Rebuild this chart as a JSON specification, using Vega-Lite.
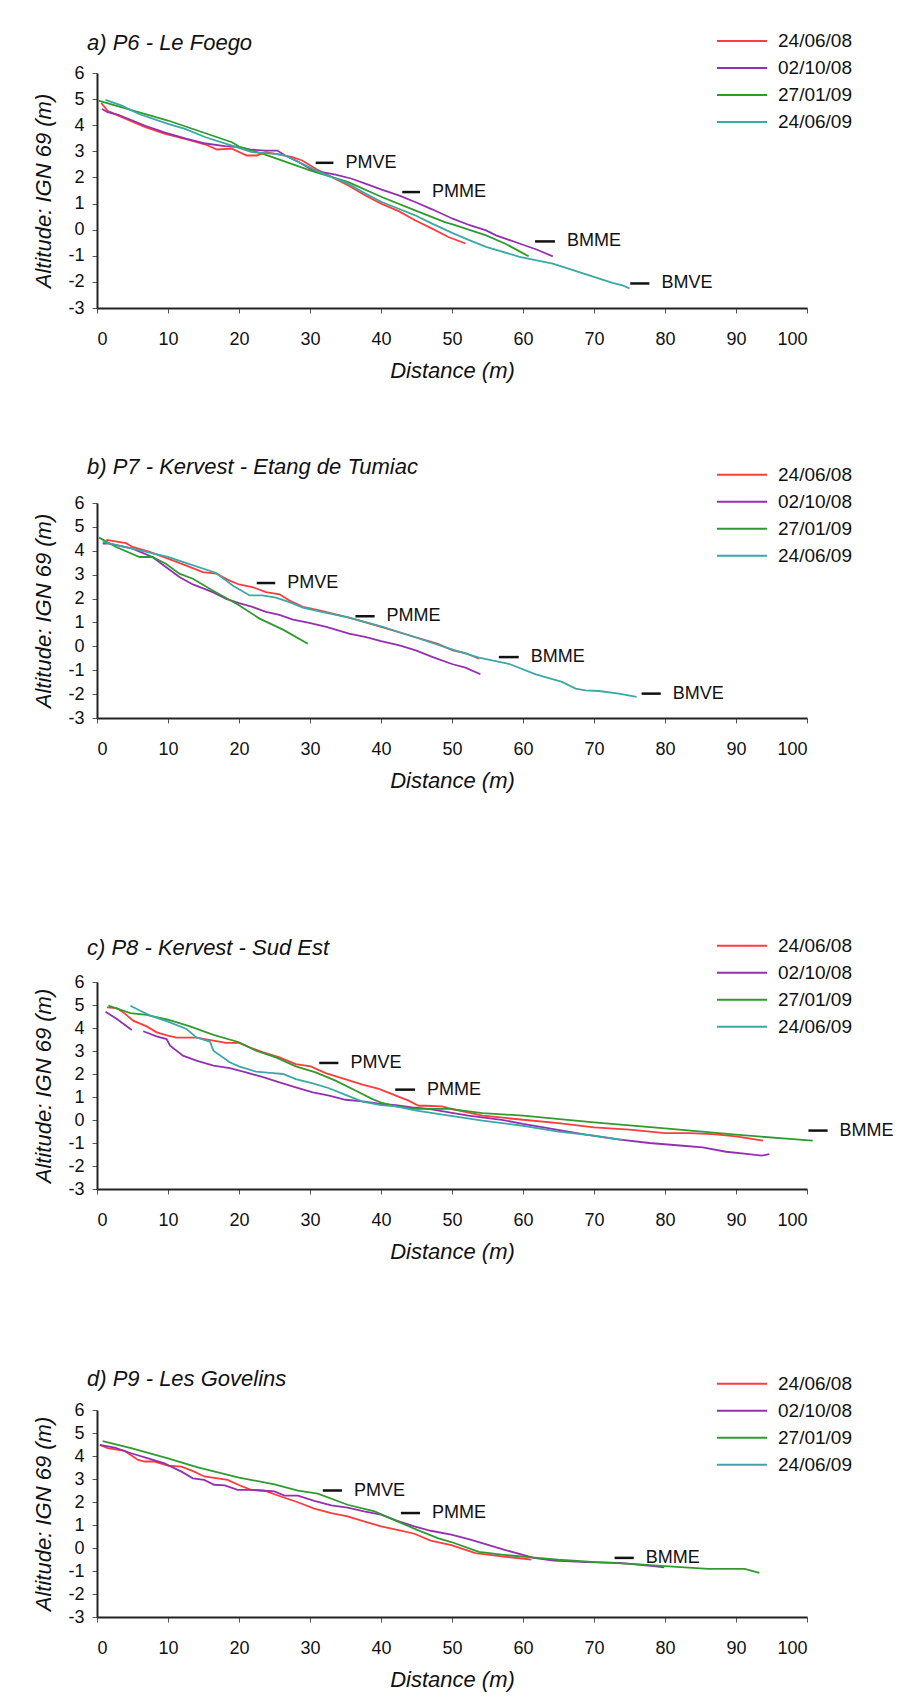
{
  "$schema": "https://vega.github.io/schema/vega-lite/v6.json",
  "padding": {"left": 32, "top": 27, "right": 5, "bottom": 5},
  "background": "white",
  "spacing": 74,
  "config": {
    "font": "Liberation Sans",
    "view": {"stroke": null},
    "axis": {"domainColor": "#222", "domainWidth": 2, "tickColor": "#555", "tickWidth": 1, "tickSize": 5, "labelFont": "Liberation Sans", "labelFontSize": 18, "labelColor": "#111", "titleFont": "Liberation Sans", "titleFontSize": 22, "titleFontStyle": "italic", "titleFontWeight": "normal", "titleColor": "#111", "grid": false, "labelOverlap": false},
    "axisX": {"labelPadding": 17, "titlePadding": 12, "labelAngle": 0},
    "axisY": {"labelPadding": 8, "titlePadding": 12},
    "legend": {"title": null, "orient": "none", "symbolType": "M-1,0H3", "symbolSize": 625, "symbolStrokeWidth": 2, "labelFont": "Liberation Sans", "labelFontSize": 19, "labelColor": "#111", "labelOffset": 35, "rowPadding": 3, "padding": 0},
    "title": {"font": "Liberation Sans", "fontSize": 22, "fontStyle": "italic", "fontWeight": "normal", "anchor": "start", "frame": "group", "color": "#111"}
  },
  "resolve": {"scale": {"color": "independent", "x": "independent", "y": "independent"}, "legend": {"color": "independent"}},
  "datasets": {
    "a": [
      {"date":"24/06/08","dist":0.6,"alt":4.85},{"date":"24/06/08","dist":1.5,"alt":4.55},{"date":"24/06/08","dist":3,"alt":4.37},{"date":"24/06/08","dist":6.8,"alt":3.93},{"date":"24/06/08","dist":9.6,"alt":3.67},{"date":"24/06/08","dist":12.4,"alt":3.48},{"date":"24/06/08","dist":15.3,"alt":3.26},{"date":"24/06/08","dist":16.9,"alt":3.07},{"date":"24/06/08","dist":19,"alt":3.1},{"date":"24/06/08","dist":21.1,"alt":2.84},{"date":"24/06/08","dist":22.5,"alt":2.84},{"date":"24/06/08","dist":23.7,"alt":2.97},{"date":"24/06/08","dist":25.6,"alt":2.88},{"date":"24/06/08","dist":27.5,"alt":2.78},{"date":"24/06/08","dist":28.9,"alt":2.65},{"date":"24/06/08","dist":30.8,"alt":2.33},{"date":"24/06/08","dist":33.1,"alt":2.01},{"date":"24/06/08","dist":35.4,"alt":1.69},{"date":"24/06/08","dist":37.8,"alt":1.31},{"date":"24/06/08","dist":40.1,"alt":0.99},{"date":"24/06/08","dist":42.5,"alt":0.71},{"date":"24/06/08","dist":44.8,"alt":0.36},{"date":"24/06/08","dist":47.2,"alt":0.04},{"date":"24/06/08","dist":49.5,"alt":-0.28},{"date":"24/06/08","dist":51.9,"alt":-0.53},
      {"date":"02/10/08","dist":0.7,"alt":4.62},{"date":"02/10/08","dist":1.5,"alt":4.5},{"date":"02/10/08","dist":3,"alt":4.4},{"date":"02/10/08","dist":6.8,"alt":3.98},{"date":"02/10/08","dist":9.6,"alt":3.72},{"date":"02/10/08","dist":12.4,"alt":3.5},{"date":"02/10/08","dist":15.3,"alt":3.3},{"date":"02/10/08","dist":18,"alt":3.2},{"date":"02/10/08","dist":20,"alt":3.16},{"date":"02/10/08","dist":21.8,"alt":3.06},{"date":"02/10/08","dist":23.7,"alt":3.03},{"date":"02/10/08","dist":25.4,"alt":3.03},{"date":"02/10/08","dist":26.5,"alt":2.84},{"date":"02/10/08","dist":28.4,"alt":2.59},{"date":"02/10/08","dist":30.3,"alt":2.29},{"date":"02/10/08","dist":31.7,"alt":2.2},{"date":"02/10/08","dist":33.6,"alt":2.11},{"date":"02/10/08","dist":35.9,"alt":1.95},{"date":"02/10/08","dist":37.8,"alt":1.76},{"date":"02/10/08","dist":40.1,"alt":1.53},{"date":"02/10/08","dist":42.5,"alt":1.31},{"date":"02/10/08","dist":44.8,"alt":1.06},{"date":"02/10/08","dist":47.2,"alt":0.78},{"date":"02/10/08","dist":50.1,"alt":0.42},{"date":"02/10/08","dist":52.5,"alt":0.17},{"date":"02/10/08","dist":54.8,"alt":-0.03},{"date":"02/10/08","dist":56.2,"alt":-0.22},{"date":"02/10/08","dist":59.5,"alt":-0.53},{"date":"02/10/08","dist":61.9,"alt":-0.76},{"date":"02/10/08","dist":64.2,"alt":-1.02},
      {"date":"27/01/09","dist":0.2,"alt":4.94},{"date":"27/01/09","dist":10,"alt":4.18},{"date":"27/01/09","dist":19,"alt":3.35},{"date":"27/01/09","dist":20,"alt":3.18},{"date":"27/01/09","dist":23.7,"alt":2.87},{"date":"27/01/09","dist":30,"alt":2.27},{"date":"27/01/09","dist":35.4,"alt":1.82},{"date":"27/01/09","dist":40.1,"alt":1.25},{"date":"27/01/09","dist":44.8,"alt":0.74},{"date":"27/01/09","dist":49,"alt":0.29},{"date":"27/01/09","dist":50.1,"alt":0.2},{"date":"27/01/09","dist":54.8,"alt":-0.22},{"date":"27/01/09","dist":57.6,"alt":-0.55},{"date":"27/01/09","dist":60.8,"alt":-1.02},
      {"date":"24/06/09","dist":1.2,"alt":4.97},{"date":"24/06/09","dist":3.5,"alt":4.75},{"date":"24/06/09","dist":5.9,"alt":4.43},{"date":"24/06/09","dist":10,"alt":4.05},{"date":"24/06/09","dist":12.4,"alt":3.86},{"date":"24/06/09","dist":15.3,"alt":3.54},{"date":"24/06/09","dist":19,"alt":3.22},{"date":"24/06/09","dist":21.8,"alt":2.97},{"date":"24/06/09","dist":25.1,"alt":2.9},{"date":"24/06/09","dist":26.5,"alt":2.84},{"date":"24/06/09","dist":28.4,"alt":2.59},{"date":"24/06/09","dist":30.8,"alt":2.27},{"date":"24/06/09","dist":33.1,"alt":2.01},{"date":"24/06/09","dist":35.4,"alt":1.76},{"date":"24/06/09","dist":37.8,"alt":1.38},{"date":"24/06/09","dist":40.1,"alt":1.06},{"date":"24/06/09","dist":42.5,"alt":0.8},{"date":"24/06/09","dist":44.8,"alt":0.55},{"date":"24/06/09","dist":47.2,"alt":0.23},{"date":"24/06/09","dist":50.1,"alt":-0.13},{"date":"24/06/09","dist":52.5,"alt":-0.41},{"date":"24/06/09","dist":54.8,"alt":-0.66},{"date":"24/06/09","dist":59.5,"alt":-1.04},{"date":"24/06/09","dist":64.2,"alt":-1.3},{"date":"24/06/09","dist":68.9,"alt":-1.71},{"date":"24/06/09","dist":72.6,"alt":-2.04},{"date":"24/06/09","dist":74,"alt":-2.13},{"date":"24/06/09","dist":75,"alt":-2.25}
    ],
    "a_lab": [
      {"label":"PMVE","x1":30.8,"x2":33.3,"y":2.56},{"label":"PMME","x1":43,"x2":45.5,"y":1.44},{"label":"BMME","x1":61.7,"x2":64.5,"y":-0.45},{"label":"BMVE","x1":75.1,"x2":77.8,"y":-2.06}
    ],
    "b": [
      {"date":"24/06/08","dist":1.3,"alt":4.46},{"date":"24/06/08","dist":4.1,"alt":4.32},{"date":"24/06/08","dist":5,"alt":4.16},{"date":"24/06/08","dist":7.4,"alt":3.95},{"date":"24/06/08","dist":10,"alt":3.67},{"date":"24/06/08","dist":12.5,"alt":3.39},{"date":"24/06/08","dist":14.9,"alt":3.11},{"date":"24/06/08","dist":16.8,"alt":3.04},{"date":"24/06/08","dist":18.6,"alt":2.76},{"date":"24/06/08","dist":20,"alt":2.59},{"date":"24/06/08","dist":21.9,"alt":2.48},{"date":"24/06/08","dist":23.8,"alt":2.27},{"date":"24/06/08","dist":25.7,"alt":2.18},{"date":"24/06/08","dist":27.1,"alt":1.92},{"date":"24/06/08","dist":29,"alt":1.65},{"date":"24/06/08","dist":31.3,"alt":1.51},{"date":"24/06/08","dist":35.5,"alt":1.2},{"date":"24/06/08","dist":40,"alt":0.81},{"date":"24/06/08","dist":44.9,"alt":0.38},{"date":"24/06/08","dist":48,"alt":0.1},{"date":"24/06/08","dist":50.1,"alt":-0.17},{"date":"24/06/08","dist":51.9,"alt":-0.28},{"date":"24/06/08","dist":53.8,"alt":-0.52},
      {"date":"02/10/08","dist":0.8,"alt":4.3},{"date":"02/10/08","dist":1.7,"alt":4.3},{"date":"02/10/08","dist":5,"alt":4.09},{"date":"02/10/08","dist":7.8,"alt":3.74},{"date":"02/10/08","dist":9.7,"alt":3.32},{"date":"02/10/08","dist":11.6,"alt":2.9},{"date":"02/10/08","dist":13.5,"alt":2.59},{"date":"02/10/08","dist":16.3,"alt":2.27},{"date":"02/10/08","dist":18.2,"alt":1.99},{"date":"02/10/08","dist":20,"alt":1.81},{"date":"02/10/08","dist":21.9,"alt":1.65},{"date":"02/10/08","dist":23.8,"alt":1.44},{"date":"02/10/08","dist":25.7,"alt":1.32},{"date":"02/10/08","dist":27.6,"alt":1.12},{"date":"02/10/08","dist":29.9,"alt":0.98},{"date":"02/10/08","dist":32.3,"alt":0.81},{"date":"02/10/08","dist":35.5,"alt":0.53},{"date":"02/10/08","dist":37.9,"alt":0.39},{"date":"02/10/08","dist":40,"alt":0.22},{"date":"02/10/08","dist":42.6,"alt":0.04},{"date":"02/10/08","dist":44.9,"alt":-0.17},{"date":"02/10/08","dist":47.3,"alt":-0.45},{"date":"02/10/08","dist":50.1,"alt":-0.75},{"date":"02/10/08","dist":51.9,"alt":-0.89},{"date":"02/10/08","dist":54,"alt":-1.17},
      {"date":"27/01/09","dist":0.3,"alt":4.55},{"date":"27/01/09","dist":2.7,"alt":4.16},{"date":"27/01/09","dist":6,"alt":3.74},{"date":"27/01/09","dist":7.8,"alt":3.74},{"date":"27/01/09","dist":9.7,"alt":3.46},{"date":"27/01/09","dist":11.6,"alt":3.04},{"date":"27/01/09","dist":13.5,"alt":2.83},{"date":"27/01/09","dist":16.3,"alt":2.34},{"date":"27/01/09","dist":20,"alt":1.72},{"date":"27/01/09","dist":22.9,"alt":1.16},{"date":"27/01/09","dist":26.2,"alt":0.7},{"date":"27/01/09","dist":29.7,"alt":0.11},
      {"date":"24/06/09","dist":0.8,"alt":4.37},{"date":"24/06/09","dist":5,"alt":4.09},{"date":"24/06/09","dist":10,"alt":3.74},{"date":"24/06/09","dist":12.5,"alt":3.49},{"date":"24/06/09","dist":16.8,"alt":3.07},{"date":"24/06/09","dist":19.1,"alt":2.55},{"date":"24/06/09","dist":21.5,"alt":2.13},{"date":"24/06/09","dist":23.3,"alt":2.13},{"date":"24/06/09","dist":25.2,"alt":2.04},{"date":"24/06/09","dist":27.1,"alt":1.85},{"date":"24/06/09","dist":29,"alt":1.62},{"date":"24/06/09","dist":31.3,"alt":1.46},{"date":"24/06/09","dist":35.5,"alt":1.2},{"date":"24/06/09","dist":40,"alt":0.84},{"date":"24/06/09","dist":44.9,"alt":0.37},{"date":"24/06/09","dist":50.1,"alt":-0.14},{"date":"24/06/09","dist":53.8,"alt":-0.47},{"date":"24/06/09","dist":58,"alt":-0.73},{"date":"24/06/09","dist":61.8,"alt":-1.17},{"date":"24/06/09","dist":65.5,"alt":-1.49},{"date":"24/06/09","dist":67.4,"alt":-1.77},{"date":"24/06/09","dist":68.8,"alt":-1.84},{"date":"24/06/09","dist":70.7,"alt":-1.87},{"date":"24/06/09","dist":73.5,"alt":-1.98},{"date":"24/06/09","dist":76,"alt":-2.12}
    ],
    "b_lab": [
      {"label":"PMVE","x1":22.5,"x2":25.1,"y":2.65},{"label":"PMME","x1":36.4,"x2":39.1,"y":1.26},{"label":"BMME","x1":56.6,"x2":59.4,"y":-0.45},{"label":"BMVE","x1":76.7,"x2":79.4,"y":-1.98}
    ],
    "c": [
      {"date":"24/06/08","dist":1.4,"alt":4.9},{"date":"24/06/08","dist":2.8,"alt":4.86},{"date":"24/06/08","dist":3.7,"alt":4.68},{"date":"24/06/08","dist":5.1,"alt":4.32},{"date":"24/06/08","dist":7,"alt":4.07},{"date":"24/06/08","dist":8.4,"alt":3.81},{"date":"24/06/08","dist":10,"alt":3.67},{"date":"24/06/08","dist":11.2,"alt":3.58},{"date":"24/06/08","dist":14,"alt":3.58},{"date":"24/06/08","dist":16.4,"alt":3.45},{"date":"24/06/08","dist":18.2,"alt":3.35},{"date":"24/06/08","dist":20,"alt":3.35},{"date":"24/06/08","dist":21.5,"alt":3.16},{"date":"24/06/08","dist":23.4,"alt":2.94},{"date":"24/06/08","dist":25.7,"alt":2.72},{"date":"24/06/08","dist":28,"alt":2.43},{"date":"24/06/08","dist":30.1,"alt":2.33},{"date":"24/06/08","dist":32.2,"alt":2.04},{"date":"24/06/08","dist":34.6,"alt":1.81},{"date":"24/06/08","dist":37.4,"alt":1.54},{"date":"24/06/08","dist":39.7,"alt":1.35},{"date":"24/06/08","dist":42.1,"alt":1.06},{"date":"24/06/08","dist":43.9,"alt":0.84},{"date":"24/06/08","dist":45.3,"alt":0.62},{"date":"24/06/08","dist":46.3,"alt":0.62},{"date":"24/06/08","dist":48.6,"alt":0.59},{"date":"24/06/08","dist":49.7,"alt":0.5},{"date":"24/06/08","dist":54.3,"alt":0.19},{"date":"24/06/08","dist":60,"alt":0.01},{"date":"24/06/08","dist":65,"alt":-0.14},{"date":"24/06/08","dist":70,"alt":-0.32},{"date":"24/06/08","dist":75,"alt":-0.42},{"date":"24/06/08","dist":80,"alt":-0.57},{"date":"24/06/08","dist":83.4,"alt":-0.57},{"date":"24/06/08","dist":86.7,"alt":-0.61},{"date":"24/06/08","dist":90,"alt":-0.71},{"date":"24/06/08","dist":93.8,"alt":-0.9},
      {"date":"02/10/08","seg":1,"dist":1.2,"alt":4.71},{"date":"02/10/08","seg":1,"dist":2.8,"alt":4.39},{"date":"02/10/08","seg":1,"dist":4.9,"alt":3.91},
      {"date":"02/10/08","seg":2,"dist":6.5,"alt":3.86},{"date":"02/10/08","seg":2,"dist":8.4,"alt":3.64},{"date":"02/10/08","seg":2,"dist":9.8,"alt":3.52},{"date":"02/10/08","seg":2,"dist":10.3,"alt":3.23},{"date":"02/10/08","seg":2,"dist":12.1,"alt":2.8},{"date":"02/10/08","seg":2,"dist":14,"alt":2.58},{"date":"02/10/08","seg":2,"dist":16.4,"alt":2.36},{"date":"02/10/08","seg":2,"dist":18.7,"alt":2.26},{"date":"02/10/08","seg":2,"dist":21,"alt":2.07},{"date":"02/10/08","seg":2,"dist":23.4,"alt":1.86},{"date":"02/10/08","seg":2,"dist":25.7,"alt":1.64},{"date":"02/10/08","seg":2,"dist":28,"alt":1.42},{"date":"02/10/08","seg":2,"dist":30.4,"alt":1.2},{"date":"02/10/08","seg":2,"dist":32.7,"alt":1.06},{"date":"02/10/08","seg":2,"dist":35,"alt":0.88},{"date":"02/10/08","seg":2,"dist":37.4,"alt":0.81},{"date":"02/10/08","seg":2,"dist":40,"alt":0.7},{"date":"02/10/08","seg":2,"dist":42.1,"alt":0.65},{"date":"02/10/08","seg":2,"dist":44.4,"alt":0.55},{"date":"02/10/08","seg":2,"dist":46.7,"alt":0.48},{"date":"02/10/08","seg":2,"dist":49.6,"alt":0.33},{"date":"02/10/08","seg":2,"dist":52.3,"alt":0.19},{"date":"02/10/08","seg":2,"dist":57,"alt":0.01},{"date":"02/10/08","seg":2,"dist":60,"alt":-0.17},{"date":"02/10/08","seg":2,"dist":63.7,"alt":-0.36},{"date":"02/10/08","seg":2,"dist":68.4,"alt":-0.61},{"date":"02/10/08","seg":2,"dist":73.1,"alt":-0.83},{"date":"02/10/08","seg":2,"dist":77.8,"alt":-1.0},{"date":"02/10/08","seg":2,"dist":82.5,"alt":-1.12},{"date":"02/10/08","seg":2,"dist":85.3,"alt":-1.19},{"date":"02/10/08","seg":2,"dist":88.6,"alt":-1.38},{"date":"02/10/08","seg":2,"dist":91.8,"alt":-1.48},{"date":"02/10/08","seg":2,"dist":93.6,"alt":-1.55},{"date":"02/10/08","seg":2,"dist":94.7,"alt":-1.48},
      {"date":"27/01/09","dist":1.6,"alt":4.97},{"date":"27/01/09","dist":4.7,"alt":4.65},{"date":"27/01/09","dist":7,"alt":4.57},{"date":"27/01/09","dist":10,"alt":4.36},{"date":"27/01/09","dist":13.1,"alt":4.07},{"date":"27/01/09","dist":16.4,"alt":3.7},{"date":"27/01/09","dist":20,"alt":3.38},{"date":"27/01/09","dist":22.4,"alt":3.01},{"date":"27/01/09","dist":25.2,"alt":2.72},{"date":"27/01/09","dist":28,"alt":2.33},{"date":"27/01/09","dist":30.8,"alt":2.07},{"date":"27/01/09","dist":33.6,"alt":1.71},{"date":"27/01/09","dist":36.4,"alt":1.28},{"date":"27/01/09","dist":38.8,"alt":0.91},{"date":"27/01/09","dist":40.2,"alt":0.74},{"date":"27/01/09","dist":42.1,"alt":0.59},{"date":"27/01/09","dist":45,"alt":0.48},{"date":"27/01/09","dist":49.6,"alt":0.48},{"date":"27/01/09","dist":54.3,"alt":0.3},{"date":"27/01/09","dist":60,"alt":0.19},{"date":"27/01/09","dist":70,"alt":-0.1},{"date":"27/01/09","dist":80,"alt":-0.36},{"date":"27/01/09","dist":90,"alt":-0.64},{"date":"27/01/09","dist":96.6,"alt":-0.8},{"date":"27/01/09","dist":100.8,"alt":-0.9},
      {"date":"24/06/09","dist":4.7,"alt":4.97},{"date":"24/06/09","dist":6.1,"alt":4.75},{"date":"24/06/09","dist":7.5,"alt":4.54},{"date":"24/06/09","dist":10,"alt":4.28},{"date":"24/06/09","dist":12.6,"alt":3.96},{"date":"24/06/09","dist":14,"alt":3.59},{"date":"24/06/09","dist":15.9,"alt":3.41},{"date":"24/06/09","dist":16.4,"alt":3.01},{"date":"24/06/09","dist":18.7,"alt":2.51},{"date":"24/06/09","dist":20,"alt":2.33},{"date":"24/06/09","dist":22.4,"alt":2.1},{"date":"24/06/09","dist":24.8,"alt":2.04},{"date":"24/06/09","dist":26.2,"alt":2.0},{"date":"24/06/09","dist":28,"alt":1.78},{"date":"24/06/09","dist":30.4,"alt":1.59},{"date":"24/06/09","dist":32.7,"alt":1.38},{"date":"24/06/09","dist":35,"alt":1.09},{"date":"24/06/09","dist":37.4,"alt":0.8},{"date":"24/06/09","dist":40,"alt":0.65},{"date":"24/06/09","dist":42.1,"alt":0.59},{"date":"24/06/09","dist":45,"alt":0.41},{"date":"24/06/09","dist":49.6,"alt":0.19},{"date":"24/06/09","dist":54.3,"alt":-0.03},{"date":"24/06/09","dist":60,"alt":-0.25},{"date":"24/06/09","dist":65,"alt":-0.51},{"date":"24/06/09","dist":70,"alt":-0.68},{"date":"24/06/09","dist":74,"alt":-0.86}
    ],
    "c_lab": [
      {"label":"PMVE","x1":31.3,"x2":34,"y":2.48},{"label":"PMME","x1":42,"x2":44.8,"y":1.32},{"label":"BMME","x1":100.2,"x2":102.9,"y":-0.46}
    ],
    "d": [
      {"date":"24/06/08","dist":0.4,"alt":4.48},{"date":"24/06/08","dist":1.5,"alt":4.34},{"date":"24/06/08","dist":3.9,"alt":4.22},{"date":"24/06/08","dist":5.8,"alt":3.83},{"date":"24/06/08","dist":6.7,"alt":3.76},{"date":"24/06/08","dist":8.1,"alt":3.76},{"date":"24/06/08","dist":10,"alt":3.58},{"date":"24/06/08","dist":11.9,"alt":3.54},{"date":"24/06/08","dist":13.7,"alt":3.32},{"date":"24/06/08","dist":15.1,"alt":3.11},{"date":"24/06/08","dist":17,"alt":3.03},{"date":"24/06/08","dist":18.4,"alt":2.96},{"date":"24/06/08","dist":19.9,"alt":2.75},{"date":"24/06/08","dist":21.7,"alt":2.53},{"date":"24/06/08","dist":23.6,"alt":2.49},{"date":"24/06/08","dist":25.9,"alt":2.24},{"date":"24/06/08","dist":28.3,"alt":1.99},{"date":"24/06/08","dist":30.6,"alt":1.71},{"date":"24/06/08","dist":33,"alt":1.52},{"date":"24/06/08","dist":35.3,"alt":1.37},{"date":"24/06/08","dist":37.6,"alt":1.16},{"date":"24/06/08","dist":40,"alt":0.94},{"date":"24/06/08","dist":42.3,"alt":0.79},{"date":"24/06/08","dist":44.7,"alt":0.62},{"date":"24/06/08","dist":47,"alt":0.32},{"date":"24/06/08","dist":49.9,"alt":0.12},{"date":"24/06/08","dist":53.3,"alt":-0.22},{"date":"24/06/08","dist":57,"alt":-0.36},{"date":"24/06/08","dist":61.2,"alt":-0.51},
      {"date":"02/10/08","dist":0.4,"alt":4.48},{"date":"02/10/08","dist":2.5,"alt":4.36},{"date":"02/10/08","dist":4.8,"alt":4.12},{"date":"02/10/08","dist":7.2,"alt":3.9},{"date":"02/10/08","dist":9.5,"alt":3.68},{"date":"02/10/08","dist":11.9,"alt":3.32},{"date":"02/10/08","dist":13.5,"alt":3.03},{"date":"02/10/08","dist":15.1,"alt":2.96},{"date":"02/10/08","dist":16.5,"alt":2.75},{"date":"02/10/08","dist":18,"alt":2.72},{"date":"02/10/08","dist":19.8,"alt":2.53},{"date":"02/10/08","dist":21.7,"alt":2.53},{"date":"02/10/08","dist":23.6,"alt":2.49},{"date":"02/10/08","dist":25,"alt":2.46},{"date":"02/10/08","dist":26.4,"alt":2.28},{"date":"02/10/08","dist":28.3,"alt":2.28},{"date":"02/10/08","dist":30.6,"alt":2.05},{"date":"02/10/08","dist":33,"alt":1.85},{"date":"02/10/08","dist":35.3,"alt":1.76},{"date":"02/10/08","dist":37.6,"alt":1.59},{"date":"02/10/08","dist":40,"alt":1.45},{"date":"02/10/08","dist":42.3,"alt":1.18},{"date":"02/10/08","dist":44.7,"alt":0.94},{"date":"02/10/08","dist":47,"alt":0.75},{"date":"02/10/08","dist":49.9,"alt":0.58},{"date":"02/10/08","dist":52.6,"alt":0.36},{"date":"02/10/08","dist":57.3,"alt":-0.07},{"date":"02/10/08","dist":61.5,"alt":-0.43},{"date":"02/10/08","dist":64.3,"alt":-0.55},{"date":"02/10/08","dist":69,"alt":-0.61},{"date":"02/10/08","dist":73.6,"alt":-0.65},{"date":"02/10/08","dist":78.3,"alt":-0.79},{"date":"02/10/08","dist":79.9,"alt":-0.84},
      {"date":"27/01/09","dist":0.8,"alt":4.65},{"date":"27/01/09","dist":4.8,"alt":4.34},{"date":"27/01/09","dist":10,"alt":3.9},{"date":"27/01/09","dist":14.2,"alt":3.51},{"date":"27/01/09","dist":20,"alt":3.06},{"date":"27/01/09","dist":25,"alt":2.77},{"date":"27/01/09","dist":28.3,"alt":2.49},{"date":"27/01/09","dist":31.1,"alt":2.36},{"date":"27/01/09","dist":35.3,"alt":1.88},{"date":"27/01/09","dist":39.1,"alt":1.59},{"date":"27/01/09","dist":42.3,"alt":1.16},{"date":"27/01/09","dist":45.1,"alt":0.79},{"date":"27/01/09","dist":48,"alt":0.43},{"date":"27/01/09","dist":49.9,"alt":0.26},{"date":"27/01/09","dist":53.8,"alt":-0.17},{"date":"27/01/09","dist":57,"alt":-0.29},{"date":"27/01/09","dist":60.8,"alt":-0.4},{"date":"27/01/09","dist":65,"alt":-0.51},{"date":"27/01/09","dist":70.2,"alt":-0.61},{"date":"27/01/09","dist":75.3,"alt":-0.69},{"date":"27/01/09","dist":80,"alt":-0.79},{"date":"27/01/09","dist":86.1,"alt":-0.91},{"date":"27/01/09","dist":91.2,"alt":-0.91},{"date":"27/01/09","dist":93.3,"alt":-1.08}
    ],
    "d_lab": [
      {"label":"PMVE","x1":31.8,"x2":34.5,"y":2.5},{"label":"PMME","x1":42.8,"x2":45.5,"y":1.52},{"label":"BMME","x1":72.9,"x2":75.6,"y":-0.43}
    ]
  },
  "vconcat": [
    {
      "width": 710, "height": 235,
      "title": {"text": "a) P6 - Le Foego", "offset": -27.4, "dx": -10},
      "layer": [
        {"data": {"name": "a"}, "mark": {"type": "line", "strokeWidth": 1.8},
         "encoding": {
           "x": {"field": "dist", "type": "quantitative", "scale": {"domain": [0, 100], "nice": false}, "axis": {"values": [0,10,20,30,40,50,60,70,80,90,100], "tickCount": 11, "title": "Distance (m)", "labelOverlap": false}},
           "y": {"field": "alt", "type": "quantitative", "scale": {"domain": [-3, 6], "nice": false}, "axis": {"values": [-3,-2,-1,0,1,2,3,4,5,6], "tickCount": 10, "title": "Altitude: IGN 69 (m)", "labelExpr": "'' + datum.value", "labelOverlap": false}},
           "color": {"field": "date", "type": "nominal", "scale": {"domain": ["24/06/08","02/10/08","27/01/09","24/06/09"], "range": ["#ff3b3b","#9430b0","#2f9a2f","#3aa8a8"]}, "legend": {"legendX": 619, "legendY": -45.5}},
           "detail": {"field": "seg"}
         }},
        {"data": {"name": "a_lab"}, "mark": {"type": "rule", "color": "#111", "strokeWidth": 2.5},
         "encoding": {"x": {"field": "x1", "type": "quantitative"}, "x2": {"field": "x2"}, "y": {"field": "y", "type": "quantitative"}}},
        {"data": {"name": "a_lab"}, "mark": {"type": "text", "align": "left", "baseline": "middle", "dx": 12, "fontSize": 18, "color": "#111"},
         "encoding": {"x": {"field": "x2", "type": "quantitative"}, "y": {"field": "y", "type": "quantitative"}, "text": {"field": "label"}}}
      ]
    },
    {
      "width": 710, "height": 215,
      "title": {"text": "b) P7 - Kervest - Etang de Tumiac", "offset": -17.5, "dx": -10},
      "layer": [
        {"data": {"name": "b"}, "mark": {"type": "line", "strokeWidth": 1.8},
         "encoding": {
           "x": {"field": "dist", "type": "quantitative", "scale": {"domain": [0, 100], "nice": false}, "axis": {"values": [0,10,20,30,40,50,60,70,80,90,100], "tickCount": 11, "title": "Distance (m)", "labelOverlap": false}},
           "y": {"field": "alt", "type": "quantitative", "scale": {"domain": [-3, 6], "nice": false}, "axis": {"values": [-3,-2,-1,0,1,2,3,4,5,6], "tickCount": 10, "title": "Altitude: IGN 69 (m)", "labelExpr": "'' + datum.value", "labelOverlap": false}},
           "color": {"field": "date", "type": "nominal", "scale": {"domain": ["24/06/08","02/10/08","27/01/09","24/06/09"], "range": ["#ff3b3b","#9430b0","#2f9a2f","#3aa8a8"]}, "legend": {"legendX": 619, "legendY": -41.8}},
           "detail": {"field": "seg"}
         }},
        {"data": {"name": "b_lab"}, "mark": {"type": "rule", "color": "#111", "strokeWidth": 2.5},
         "encoding": {"x": {"field": "x1", "type": "quantitative"}, "x2": {"field": "x2"}, "y": {"field": "y", "type": "quantitative"}}},
        {"data": {"name": "b_lab"}, "mark": {"type": "text", "align": "left", "baseline": "middle", "dx": 12, "fontSize": 18, "color": "#111"},
         "encoding": {"x": {"field": "x2", "type": "quantitative"}, "y": {"field": "y", "type": "quantitative"}, "text": {"field": "label"}}}
      ]
    },
    {
      "width": 710, "height": 207,
      "title": {"text": ["", "c) P8 - Kervest - Sud Est"], "lineHeight": 71.4, "offset": -27.8, "dx": -10},
      "layer": [
        {"data": {"name": "c"}, "mark": {"type": "line", "strokeWidth": 1.8},
         "encoding": {
           "x": {"field": "dist", "type": "quantitative", "scale": {"domain": [0, 100], "nice": false}, "axis": {"values": [0,10,20,30,40,50,60,70,80,90,100], "tickCount": 11, "title": "Distance (m)", "labelOverlap": false}},
           "y": {"field": "alt", "type": "quantitative", "scale": {"domain": [-3, 6], "nice": false}, "axis": {"values": [-3,-2,-1,0,1,2,3,4,5,6], "tickCount": 10, "title": "Altitude: IGN 69 (m)", "labelExpr": "'' + datum.value", "labelOverlap": false}},
           "color": {"field": "date", "type": "nominal", "scale": {"domain": ["24/06/08","02/10/08","27/01/09","24/06/09"], "range": ["#ff3b3b","#9430b0","#2f9a2f","#3aa8a8"]}, "legend": {"legendX": 619, "legendY": -49.8}},
           "detail": {"field": "seg"}
         }},
        {"data": {"name": "c_lab"}, "mark": {"type": "rule", "color": "#111", "strokeWidth": 2.5},
         "encoding": {"x": {"field": "x1", "type": "quantitative"}, "x2": {"field": "x2"}, "y": {"field": "y", "type": "quantitative"}}},
        {"data": {"name": "c_lab"}, "mark": {"type": "text", "align": "left", "baseline": "middle", "dx": 12, "fontSize": 18, "color": "#111"},
         "encoding": {"x": {"field": "x2", "type": "quantitative"}, "y": {"field": "y", "type": "quantitative"}, "text": {"field": "label"}}}
      ]
    },
    {
      "width": 710, "height": 207,
      "title": {"text": ["", "d) P9 - Les Govelins"], "lineHeight": 31.5, "offset": -21.1, "dx": -10},
      "layer": [
        {"data": {"name": "d"}, "mark": {"type": "line", "strokeWidth": 1.8},
         "encoding": {
           "x": {"field": "dist", "type": "quantitative", "scale": {"domain": [0, 100], "nice": false}, "axis": {"values": [0,10,20,30,40,50,60,70,80,90,100], "tickCount": 11, "title": "Distance (m)", "labelOverlap": false}},
           "y": {"field": "alt", "type": "quantitative", "scale": {"domain": [-3, 6], "nice": false}, "axis": {"values": [-3,-2,-1,0,1,2,3,4,5,6], "tickCount": 10, "title": "Altitude: IGN 69 (m)", "labelExpr": "'' + datum.value", "labelOverlap": false}},
           "color": {"field": "date", "type": "nominal", "scale": {"domain": ["24/06/08","02/10/08","27/01/09","24/06/09"], "range": ["#ff3b3b","#9430b0","#2f9a2f","#3aa8a8"]}, "legend": {"legendX": 619, "legendY": -39.8}},
           "detail": {"field": "seg"}
         }},
        {"data": {"name": "d_lab"}, "mark": {"type": "rule", "color": "#111", "strokeWidth": 2.5},
         "encoding": {"x": {"field": "x1", "type": "quantitative"}, "x2": {"field": "x2"}, "y": {"field": "y", "type": "quantitative"}}},
        {"data": {"name": "d_lab"}, "mark": {"type": "text", "align": "left", "baseline": "middle", "dx": 12, "fontSize": 18, "color": "#111"},
         "encoding": {"x": {"field": "x2", "type": "quantitative"}, "y": {"field": "y", "type": "quantitative"}, "text": {"field": "label"}}}
      ]
    }
  ]
}
